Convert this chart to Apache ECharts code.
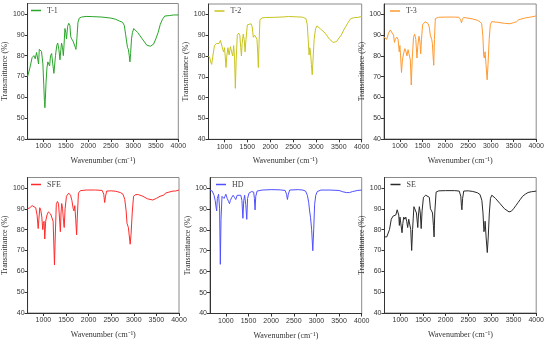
<!DOCTYPE html>
<html>
<head>
<meta charset="utf-8">
<script src="https://cdn.jsdelivr.net/npm/echarts@6/dist/echarts.min.js"></script>
<style>html,body{margin:0;padding:0;background:#fff;}#c{width:550px;height:347px;}</style>
</head>
<body>
<div id="c"></div>
<script>
const X_TICKS = [1000,1500,2000,2500,3000,3500,4000];
const Y_TICKS = [40,50,60,70,80,90,100];
const NAMES = ['T-1','T-2','T-3','SFE','HD','SE'];

const T1 = [[650,70],[700,74],[750,79],[790,80],[820,78.5],[850,81.5],[875,82],[895,76],[910,83],[930,83],[960,82],[990,76],[1010,66],[1025,58],[1035,55],[1045,59],[1060,67],[1080,74],[1100,77],[1120,76],[1140,75],[1160,80],[1185,81],[1210,76],[1235,71.5],[1250,75],[1270,80],[1300,85],[1320,86],[1345,83],[1370,78],[1390,83],[1405,86],[1425,84],[1445,80],[1460,85],[1480,93],[1500,91],[1515,88],[1540,94],[1565,95.5],[1590,94.5],[1610,89],[1630,88],[1660,87],[1690,86.5],[1710,84],[1725,83],[1745,88],[1770,96],[1800,98],[1850,98.5],[1950,98.8],[2100,98.7],[2300,98.5],[2500,98],[2600,97.5],[2700,96.5],[2760,96],[2800,94.5],[2830,90],[2850,87],[2870,84],[2890,83],[2910,80],[2925,77],[2940,81],[2960,88],[2980,91],[3010,93],[3050,92.5],[3100,91],[3200,88],[3300,85],[3380,84.5],[3450,85.5],[3500,88],[3550,91],[3600,95],[3650,97.5],[3700,99],[3800,99.2],[3900,99.5],[4000,99.5]];

const T2 = [[650,80],[680,79],[700,77],[720,76],[745,80],[780,85],[820,86],[850,85.5],[880,86],[910,87.5],[940,87.5],[965,83],[980,82],[1000,84],[1015,80],[1032,74.5],[1050,80],[1075,84],[1100,80.5],[1130,84.5],[1155,82],[1180,80],[1200,85],[1220,79],[1237,64.5],[1255,78],[1280,90],[1310,91],[1335,90],[1355,84],[1370,80],[1385,86],[1410,90.5],[1430,88],[1450,82],[1470,88],[1500,95],[1540,95.5],[1580,95.5],[1605,94],[1630,89],[1660,90],[1690,89.5],[1710,88],[1725,82],[1740,74.5],[1755,86],[1775,97.5],[1820,98.3],[1900,98.5],[2100,98.6],[2300,98.8],[2400,99],[2600,98.8],[2700,98.7],[2780,98],[2810,95],[2830,88],[2850,80.5],[2865,84],[2880,82],[2900,76],[2918,71],[2935,78],[2960,88],[2990,93],[3020,94.5],[3060,94],[3100,93],[3200,91],[3300,88],[3380,86.5],[3450,87],[3550,90],[3620,93],[3700,96],[3760,98],[3800,98.2],[3850,98.5],[3900,98.5],[4000,99]];

const T3 = [[650,89],[680,88.5],[710,88],[750,91],[790,92.5],[830,91],[860,90],[880,86.5],[900,88],[930,89],[960,88],[985,82],[1000,85],[1015,80],[1035,72],[1055,78],[1080,81],[1110,83.5],[1135,82],[1155,80],[1180,83],[1210,83.5],[1230,78],[1250,66],[1270,78],[1300,89],[1325,90.5],[1350,88],[1375,79],[1395,85],[1420,89.5],[1440,87],[1458,81],[1475,88],[1500,95],[1530,95.5],[1560,96.5],[1590,97],[1620,95.5],[1645,94],[1670,90],[1700,88],[1715,86],[1730,80],[1745,75.5],[1760,88],[1780,98],[1850,98.6],[2000,98.7],[2200,98.7],[2300,98.6],[2335,97.5],[2355,96],[2375,97.5],[2400,98.5],[2500,98.2],[2600,97.8],[2700,97.2],[2760,96.5],[2800,95.5],[2825,90],[2845,80],[2860,79],[2875,82],[2895,76],[2920,68.5],[2940,76],[2965,88],[2990,95],[3020,96.5],[3060,96.5],[3150,96.2],[3300,95.7],[3420,95.5],[3500,96],[3570,96.5],[3620,97.5],[3650,97],[3680,97.8],[3720,97.5],[3760,98.3],[3800,98.2],[3850,98.6],[3900,98.8],[3950,99],[4000,99.3]];

const SFE = [[650,90],[700,90.5],[750,91.5],[790,91.5],[830,90.5],[860,87],[885,80.5],[900,85],[920,90.5],[945,89],[965,86],[985,80],[1000,83],[1015,84],[1030,75.5],[1050,84],[1080,87],[1110,88.5],[1130,89],[1160,87.5],[1190,88],[1215,84],[1235,70],[1245,63],[1260,75],[1285,92],[1310,93.5],[1335,92.5],[1355,86],[1375,79],[1390,88],[1405,92.5],[1425,90],[1445,84],[1460,81],[1480,90],[1510,96],[1560,97.5],[1600,96.5],[1630,94],[1660,90],[1675,89],[1695,91.5],[1715,85],[1735,77.5],[1750,86],[1775,97.5],[1820,98.7],[1950,99],[2150,99],[2300,98.8],[2335,97],[2355,93],[2375,96],[2400,98.5],[2500,98.6],[2600,98.4],[2700,97.8],[2760,97],[2800,94.5],[2830,89],[2850,83],[2865,82.5],[2880,81],[2900,77],[2920,73],[2940,78],[2965,88],[2995,96],[3040,96.8],[3100,96.8],[3200,96],[3300,94.8],[3420,94.2],[3500,95],[3580,96],[3620,96.8],[3660,96.5],[3700,97.5],[3740,97.2],[3780,98],[3820,97.8],[3870,98.5],[3920,98.5],[4000,99]];

const HD = [[650,99],[700,98.5],[740,96.5],[765,94],[782,91],[797,89],[812,95],[840,97],[862,90],[878,63.5],[893,85],[915,96],[940,96.5],[960,95],[980,96],[1000,97],[1030,95],[1060,93.5],[1080,92.5],[1100,94],[1130,95.5],[1160,96.5],[1190,95.5],[1220,94.5],[1250,96.5],[1290,97],[1330,96.5],[1355,94],[1377,85.5],[1395,94],[1415,96.5],[1440,92],[1462,85],[1480,95],[1510,97.5],[1570,98.3],[1615,98],[1630,95],[1645,89.5],[1660,96],[1690,98.5],[1800,99],[2000,99.2],[2200,99.1],[2310,98.8],[2340,97],[2360,94.5],[2380,97],[2410,99],[2600,99.2],[2700,99],[2760,98.5],[2800,96.5],[2830,93],[2850,89],[2870,86],[2895,80],[2920,70],[2940,80],[2960,92],[2985,96.5],[3020,98.3],[3100,99],[3300,99],[3500,98.8],[3580,98.2],[3620,97.5],[3660,97.8],[3700,97],[3730,97.8],[3760,97.2],[3800,98.3],[3850,98.5],[3900,98.8],[4000,99]];

const SE = [[650,76.5],[700,76.5],[730,77],[760,80],[800,85],[840,86.5],[870,87],[900,87],[930,89.5],[950,89],[965,87],[978,82],[992,86],[1010,86],[1037,78.5],[1055,83],[1075,86],[1100,85],[1120,86],[1140,84],[1162,81],[1185,85],[1210,85.5],[1230,80],[1250,70],[1270,80],[1300,91],[1330,91.5],[1355,88],[1385,81],[1400,87],[1420,91],[1440,88],[1460,80.5],[1480,89],[1510,95.5],[1560,96.5],[1600,96.5],[1640,95.5],[1665,90],[1690,89],[1710,88],[1730,82],[1745,76.5],[1760,88],[1790,98],[1850,98.6],[2000,98.7],[2200,98.7],[2300,98.5],[2335,96],[2350,91],[2360,89.5],[2375,95],[2400,98.5],[2500,98.6],[2600,98.3],[2700,97.7],[2760,96.8],[2800,94],[2825,88],[2845,79],[2860,80],[2872,84],[2895,76],[2920,69],[2940,76],[2965,88],[2990,95],[3020,96.5],[3060,96],[3100,95],[3200,92.5],[3300,90],[3400,88.5],[3450,88.8],[3500,90],[3550,91.5],[3600,93],[3650,94.5],[3700,96],[3730,95.5],[3760,97],[3790,96.5],[3820,97.8],[3860,97.3],[3900,98.2],[3950,98.3],[4000,98.5]];

const DATA = [T1, T2, T3, SFE, HD, SE];
const COLORS = ['#2aa52a','#c8c41e','#ff9a30','#ff2b2b','#5050ff','#2a2a2a'];

// layout [left, top, width, height]
const GRIDS = [
  [25, 3.5, 153.3, 135.5],
  [208.5, 4, 153.2, 135.3],
  [384, 4, 152.2, 135],
  [25, 177.5, 154, 135.5],
  [210, 177.5, 151.7, 136],
  [384.5, 177.5, 151.7, 135.5]
];

const grid = [], xAxis = [], yAxis = [], series = [], legend = [];
for (let i = 0; i < 6; i++) {
  const g = GRIDS[i];
  grid.push({left: g[0], top: g[1], width: g[2], height: g[3], show: true, borderColor: '#8a8a8a', borderWidth: 1, backgroundColor: 'transparent'});
  xAxis.push({
    type: 'value', gridIndex: i, min: 650, max: 4000,
    name: 'Wavenumber (cm\u207B\u00B9)', nameLocation: 'middle', nameGap: 18,
    nameTextStyle: {fontFamily: 'Liberation Serif', fontSize: 8, color: '#333'},
    axisLine: {show: true, lineStyle: {color: '#333', width: 1}},
    axisTick: {show: true, length: 3, customValues: X_TICKS, lineStyle: {color: '#333'}},
    axisLabel: {customValues: X_TICKS, formatter: v => String(v), fontFamily: 'Liberation Sans', fontSize: 7, color: '#333', margin: 4, showMinLabel: true, showMaxLabel: true},
    splitLine: {show: false}
  });
  yAxis.push({
    type: 'value', gridIndex: i, min: 40, max: 105,
    name: 'Transmittance (%)', nameLocation: 'middle', nameGap: 15,
    nameTextStyle: {fontFamily: 'Liberation Serif', fontSize: 8, color: '#333'},
    axisLine: {show: true, lineStyle: {color: '#333', width: 1}},
    axisTick: {show: true, length: 3, customValues: Y_TICKS, lineStyle: {color: '#333'}},
    axisLabel: {customValues: Y_TICKS, formatter: v => String(v), fontFamily: 'Liberation Sans', fontSize: 7, color: '#333', margin: 3},
    splitLine: {show: false}
  });
  series.push({
    type: 'line', name: NAMES[i], xAxisIndex: i, yAxisIndex: i,
    data: DATA[i], showSymbol: false, symbol: 'none', smooth: false,
    lineStyle: {color: COLORS[i], width: 1}, itemStyle: {color: COLORS[i]}
  });
  legend.push({
    data: [NAMES[i]], left: g[0] + 6, top: g[1] + 3,
    icon: 'rect', itemWidth: 10, itemHeight: 1.5, padding: 0,
    textStyle: {fontFamily: 'Liberation Serif', fontSize: 8, color: '#444', padding: [0,0,0,1]}
  });
}

const chart = echarts.init(document.getElementById('c'), null, {renderer: 'canvas'});
chart.setOption({animation: false, backgroundColor: '#fff', grid, xAxis, yAxis, series, legend});
</script>
</body>
</html>
